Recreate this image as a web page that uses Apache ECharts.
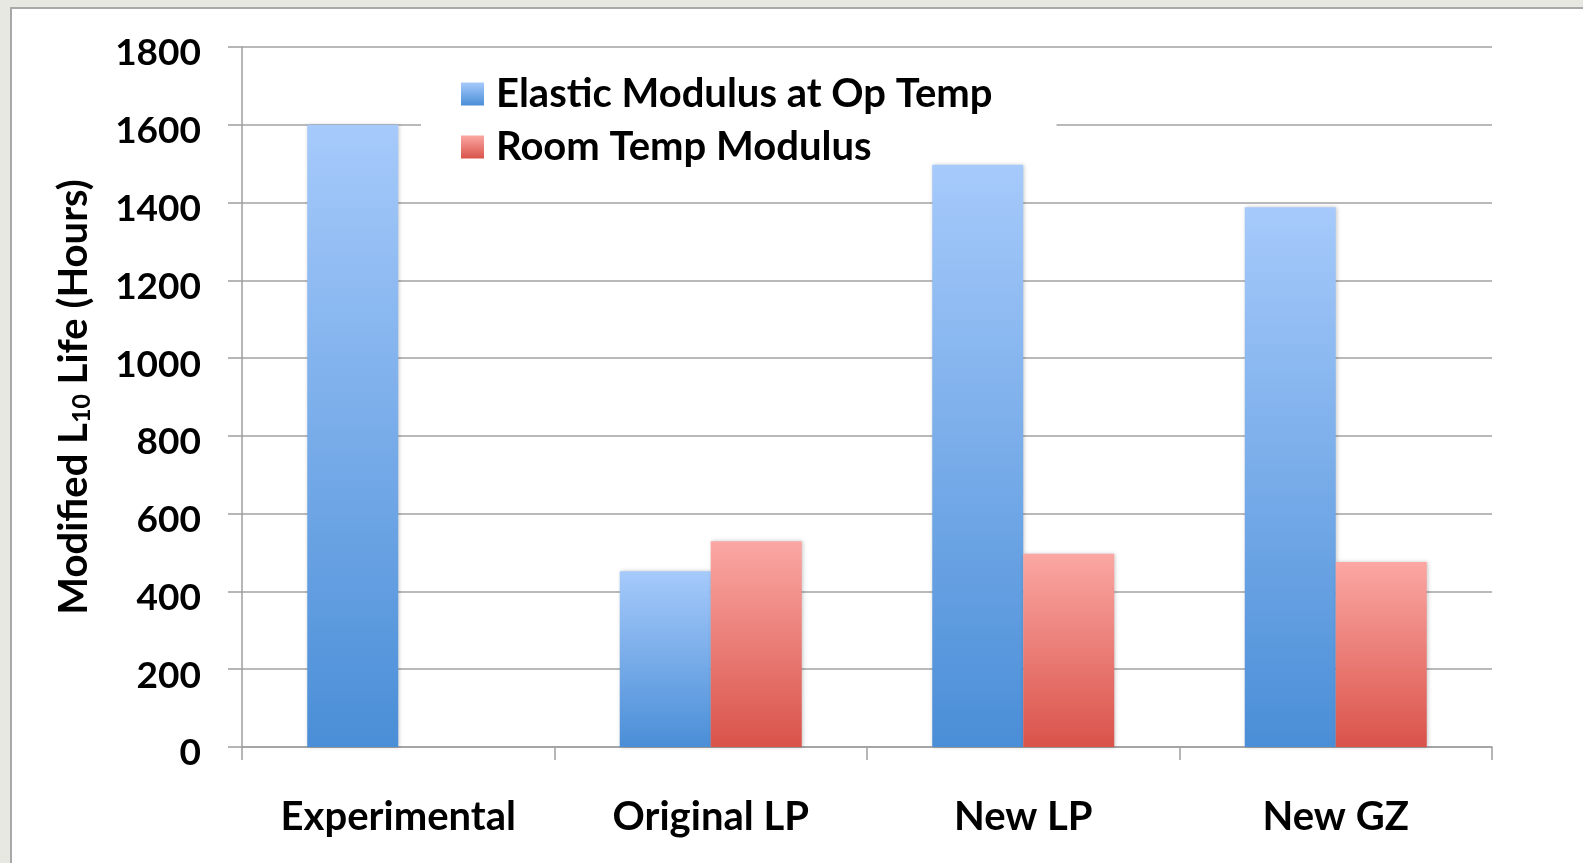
<!DOCTYPE html>
<html>
<head>
<meta charset="utf-8">
<title>Modified L10 Life</title>
<script src="https://cdn.jsdelivr.net/npm/echarts@6/dist/echarts.min.js"></script>
<style>
  html, body { margin: 0; padding: 0; background: #e8e8e3; }
  #chart { width: 1583px; height: 863px; }
</style>
</head>
<body>
<div id="chart"></div>
<script>
// Modified L10 life per bearing model, hours
const categories = ['Experimental', 'Original LP', 'New LP', 'New GZ'];
const seriesNames = ['Elastic Modulus at Op Temp', 'Room Temp Modulus'];
const opTempValues = [1600, 452, 1497, 1388];
const roomTempValues = [null, 529, 497, 476];
const yTicks = [0, 200, 400, 600, 800, 1000, 1200, 1400, 1600, 1800];

const FONT = 'Lato';
const FS = 40;       // legend, category and axis-title text
const TICK_FS = 37;  // value-axis numbers

function vGrad(top, bottom) {
  return new echarts.graphic.LinearGradient(0, 0, 0, 1, [
    { offset: 0, color: top },
    { offset: 1, color: bottom }
  ]);
}
const blueFill = vGrad('#a6cafb', '#4a8ed7');
const redFill = vGrad('#fba7a3', '#d9534a');

const chart = echarts.init(document.getElementById('chart'), null, { renderer: 'canvas' });

chart.setOption({
  backgroundColor: '#e8e8e3',
  animation: false,
  textStyle: { fontFamily: FONT, fontWeight: 'bold', color: '#000' },
  graphic: [{
    type: 'rect',
    z: -10,
    silent: true,
    shape: { x: 11, y: 8, width: 1600, height: 900 },
    style: { fill: '#ffffff', stroke: '#a8a8a8', lineWidth: 2 }
  }],
  grid: { left: 242, right: 91, top: 47, bottom: 116, containLabel: false },
  legend: {
    orient: 'vertical',
    left: 421,
    top: 58,
    z: 1,
    backgroundColor: '#ffffff',
    padding: [16, 64, 4, 40],
    itemWidth: 23,
    itemHeight: 23,
    itemGap: 13,
    icon: 'rect',
    selectedMode: false,
    textStyle: {
      fontFamily: FONT, fontWeight: 'bold', fontSize: FS, color: '#000',
      padding: [0, 0, 0, 7]
    },
    data: seriesNames
  },
  xAxis: {
    type: 'category',
    data: categories,
    axisLine: { lineStyle: { color: '#9e9e9e', width: 1.5 } },
    axisTick: { show: true, length: 13, alignWithLabel: false, lineStyle: { color: '#9e9e9e', width: 1.5 } },
    axisLabel: { fontFamily: FONT, fontWeight: 'bold', fontSize: FS, color: '#000', margin: 50 },
    splitLine: { show: false }
  },
  yAxis: {
    type: 'value',
    min: 0,
    max: 1800,
    interval: 200,
    name: '{m|Modified L}{s|10}{m| Life (Hours)}',
    nameLocation: 'middle',
    nameRotate: 90,
    nameGap: 148,
    nameTextStyle: {
      rich: {
        m: { fontFamily: FONT, fontWeight: 'bold', fontSize: FS, color: '#000', lineHeight: 44, verticalAlign: 'bottom' },
        s: { fontFamily: FONT, fontWeight: 'bold', fontSize: 25, color: '#000', lineHeight: 24, verticalAlign: 'bottom' }
      }
    },
    axisLine: { show: true, lineStyle: { color: '#9e9e9e', width: 1.5 } },
    axisTick: { show: true, length: 14, lineStyle: { color: '#9e9e9e', width: 1.5 } },
    axisLabel: {
      margin: 41,
      formatter: v => (yTicks.indexOf(v) >= 0 ? '{t|' + v + '}' : ''),
      rich: {
        t: { fontFamily: FONT, fontWeight: 'bold', fontSize: TICK_FS, color: '#000', lineHeight: 40, padding: [13, 0, 0, 0] }
      }
    },
    splitLine: { show: true, lineStyle: { color: '#a2a2a2', width: 1.5 } }
  },
  series: [
    {
      name: seriesNames[0],
      type: 'bar',
      data: opTempValues,
      barWidth: 91,
      barGap: '0%',
      itemStyle: { color: blueFill, shadowBlur: 4, shadowColor: 'rgba(0,0,0,0.22)', shadowOffsetX: 1, shadowOffsetY: 0 }
    },
    {
      name: seriesNames[1],
      type: 'bar',
      data: roomTempValues,
      barWidth: 91,
      barGap: '0%',
      itemStyle: { color: redFill, shadowBlur: 4, shadowColor: 'rgba(0,0,0,0.22)', shadowOffsetX: 1, shadowOffsetY: 0 }
    }
  ]
});
</script>
</body>
</html>
